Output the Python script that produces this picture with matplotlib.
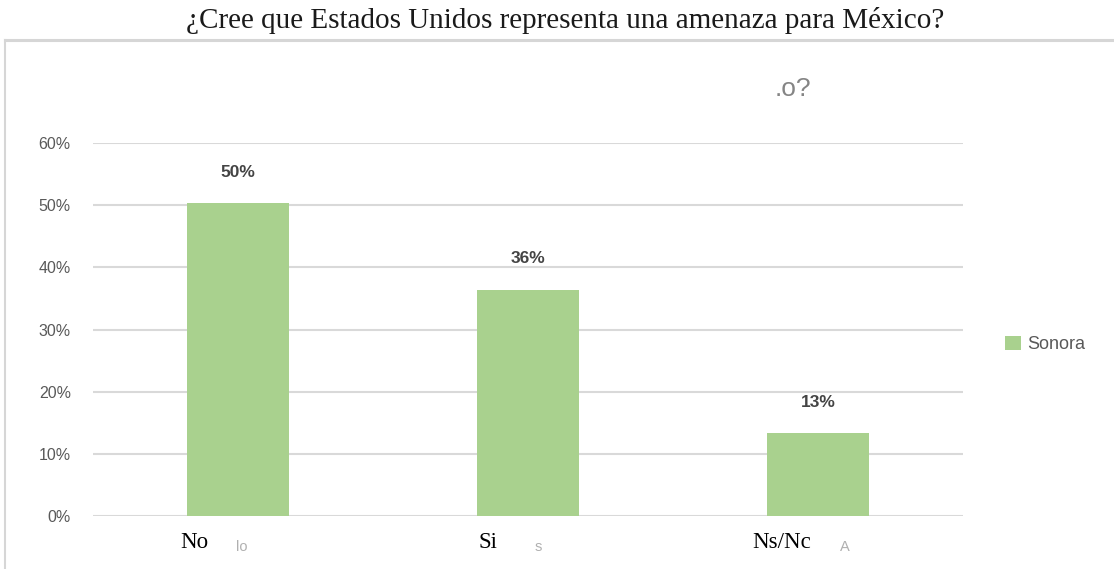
import matplotlib
matplotlib.use("Agg")
import matplotlib.pyplot as plt
from matplotlib.lines import Line2D
from matplotlib.ticker import PercentFormatter

# data
categories = ["No", "Si", "Ns/Nc"]
ghost_labels = ["lo", "s", "A"]
sonora = [0.503, 0.364, 0.133]
value_labels = ["50%", "36%", "13%"]
yticks = [0, 0.1, 0.2, 0.3, 0.4, 0.5, 0.6]

title = "¿Cree que Estados Unidos representa una amenaza para México?"
bar_color = "#a9d18e"
grid_color = "#d9d9d9"
text_gray = "#595959"

W, H = 1114, 569
fig = plt.figure(figsize=(W / 100, H / 100), dpi=100)
fig.patch.set_facecolor("white")

# outer frame of the screenshot (top and left edges only visible)
fig.add_artist(Line2D([5 / W, 1.0], [1 - 40 / H, 1 - 40 / H], color="#d6d6d6", lw=2.2))
fig.add_artist(Line2D([5 / W, 5 / W], [0, 1 - 40 / H], color="#d6d6d6", lw=1.5))

fig.text(0.507, 1 - 21 / H, title, ha="center", va="center",
         family="Liberation Serif", fontsize=21, color="#1a1a1a")

# cut-off original chart title
fig.text(775 / W, 1 - 89 / H, ".o?", ha="left", va="center",
         family="Liberation Sans", fontsize=19, color="#858585")

ax = fig.add_axes([93 / W, 1 - 516 / H, (963 - 93) / W, (516 - 143) / H])
x = list(range(len(categories)))
ax.bar(x, sonora, width=0.35, color=bar_color, label="Sonora", zorder=2)
ax.set_xlim(-0.5, len(categories) - 0.5)
ax.set_ylim(0, 0.6)
ax.set_yticks(yticks)
ax.yaxis.set_major_formatter(PercentFormatter(1.0, decimals=0))
ax.grid(axis="y", color=grid_color, lw=1.5, zorder=0)
ax.set_axisbelow(True)
for s in ax.spines.values():
    s.set_visible(False)
ax.tick_params(axis="y", length=0, pad=16, labelsize=11.5, labelcolor=text_gray)
for lbl in ax.get_yticklabels():
    lbl.set_family("Liberation Sans")
ax.set_xticks(x)
ax.set_xticklabels([])
ax.tick_params(axis="x", length=0)

for xi, v, t in zip(x, sonora, value_labels):
    ax.annotate(t, (xi, v), xytext=(0, 31), textcoords="offset pixels",
                ha="center", va="center", fontsize=12.5, fontweight="bold",
                color="#444444", family="Liberation Sans")

# category labels (serif) plus faint leftovers of the original labels
label_shift = [-44, -40, -36]
ghost_shift = [4, 10, 27]
for xi, c, g, dl, dg in zip(x, categories, ghost_labels, label_shift, ghost_shift):
    ax.annotate(c, (xi, 0), xytext=(dl, -27), textcoords="offset pixels",
                ha="center", va="center", fontsize=16.5, family="Liberation Serif",
                color="black", annotation_clip=False)
    ax.annotate(g, (xi, 0), xytext=(dg, -31), textcoords="offset pixels",
                ha="center", va="center", fontsize=10.5, family="Liberation Sans",
                color="#b0b0b0", annotation_clip=False)

ax.legend(loc="center left", bbox_to_anchor=(1.03, 0.46), frameon=False,
          handlelength=0.85, handleheight=0.85, handletextpad=0.35,
          prop={"family": "Liberation Sans", "size": 13},
          labelcolor=text_gray)

fig.savefig("out.png", dpi=100)
